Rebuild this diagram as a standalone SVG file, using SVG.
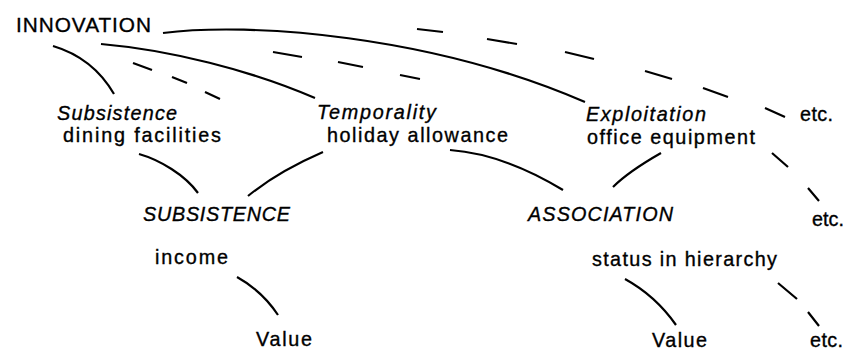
<svg xmlns="http://www.w3.org/2000/svg" width="861" height="351" viewBox="0 0 861 351">
<style>
  text { font-family: "Liberation Sans", Arial, sans-serif; font-size: 19.8px; fill: #000; stroke: #000; stroke-width: 0.35px; }
  .it { font-style: italic; }
  .big { font-size: 20.8px; }
  .c { fill: none; stroke: #000; stroke-width: 2.2; stroke-linecap: butt; }
</style>
<rect width="861" height="351" fill="#fff"/>
<g id="connectors">
  <path class="c" d="M163,33 C250,22 430,35 585,102"/>
  <path class="c" d="M101,44 C170,50 250,70 315,98"/>
  <path class="c" d="M53,46 C80,54 100,70 114,94"/>
  <path class="c" d="M133,63 L152,70 M172,77 L187,83 M205,92 L220,99"/>
  <path class="c" d="M273,52 L302,57 M338,62 L363,67 M400,75 L420,79"/>
  <path class="c" d="M417,29 L443,32 M487,39 L517,44 M565,52 L594,59 M645,71 L672,79 M703,88 L728,97 M765,108 L785,117"/>
  <path class="c" d="M772,153 L788,167 M808,188 L819,201"/>
  <path class="c" d="M778,283 L797,299 M808,312 L819,326"/>
  <path class="c" d="M139,154 C160,160 185,175 198,193"/>
  <path class="c" d="M323,152 C300,162 270,178 248,196"/>
  <path class="c" d="M450,150 C490,153 530,170 563,190"/>
  <path class="c" d="M661,153 C640,165 625,175 613,187"/>
  <path class="c" d="M237,277 C255,287 268,300 278,315"/>
  <path class="c" d="M625,279 C645,290 662,305 676,325"/>
</g>
<g id="innovation"><text class="big" x="16" y="32" textLength="135" lengthAdjust="spacing">INNOVATION</text></g>
<g id="subsistence-dining">
  <text class="it" x="57" y="120" textLength="120" lengthAdjust="spacing">Subsistence</text>
  <text x="63" y="142" textLength="158" lengthAdjust="spacing">dining facilities</text>
</g>
<g id="temporality-holiday">
  <text class="it" x="317" y="119" textLength="119" lengthAdjust="spacing">Temporality</text>
  <text x="327" y="142" textLength="181" lengthAdjust="spacing">holiday allowance</text>
</g>
<g id="exploitation-office">
  <text class="it" x="586" y="121" textLength="120" lengthAdjust="spacing">Exploitation</text>
  <text x="587" y="144" textLength="168" lengthAdjust="spacing">office equipment</text>
</g>
<g id="etc-1"><text x="800" y="121" textLength="33" lengthAdjust="spacing">etc.</text></g>
<g id="subsistence"><text class="it" x="143" y="221" textLength="147" lengthAdjust="spacing">SUBSISTENCE</text></g>
<g id="association"><text class="it" x="528" y="221" textLength="145" lengthAdjust="spacing">ASSOCIATION</text></g>
<g id="etc-2"><text x="812" y="226" textLength="32" lengthAdjust="spacing">etc.</text></g>
<g id="income"><text x="155" y="264" textLength="73" lengthAdjust="spacing">income</text></g>
<g id="status"><text x="592" y="266" textLength="185" lengthAdjust="spacing">status in hierarchy</text></g>
<g id="value-1"><text x="256" y="346" textLength="56" lengthAdjust="spacing">Value</text></g>
<g id="value-2"><text x="652" y="347" textLength="55" lengthAdjust="spacing">Value</text></g>
<g id="etc-3"><text x="810" y="347" textLength="33" lengthAdjust="spacing">etc.</text></g>
</svg>
